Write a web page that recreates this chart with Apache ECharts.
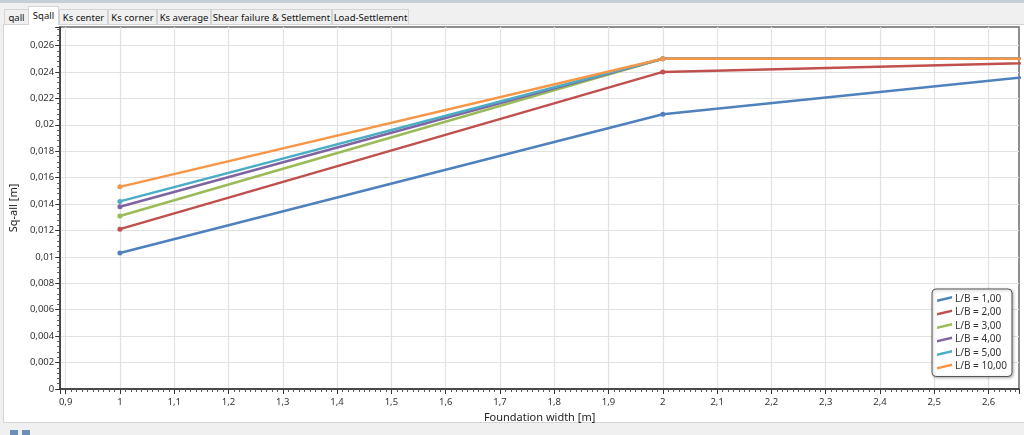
<!DOCTYPE html>
<html>
<head>
<meta charset="utf-8">
<script src="https://cdn.jsdelivr.net/npm/echarts@6/dist/echarts.min.js"></script>
<style>
  html, body { margin: 0; padding: 0; width: 1024px; height: 435px; overflow: hidden; background: #f0f0f0; font-family: "Noto Sans", sans-serif; }
  #topbar { position: absolute; left: 0; top: 0; width: 1024px; height: 3px; background: #c5cfd8; }
  #panel { position: absolute; left: 3px; top: 24px; width: 1025px; height: 397px; background: #fff; border: 1px solid #d4d4d4; }
  .tab { position: absolute; top: 9px; height: 15px; line-height: 15px; font-size: 9.5px; color: #111; text-align: center; background: #f0f0f0; border: 1px solid #d4d4d4; border-bottom: none; box-sizing: border-box; white-space: nowrap; }
  .tab.active { top: 6px; height: 19px; line-height: 18px; background: #fff; z-index: 3; }
  #chart { position: absolute; left: 0; top: 0; width: 1024px; height: 435px; z-index: 2; }
  #icon { position: absolute; left: 10px; top: 430px; width: 8px; height: 5px; background: #6d8fb5; }
  #icon2 { position: absolute; left: 22px; top: 430px; width: 8px; height: 5px; background: #6d8fb5; }
</style>
</head>
<body>
<div id="topbar"></div>
<div id="panel"></div>
<div class="tab" style="left:4px;width:25px;">qall</div>
<div class="tab active" style="left:28px;width:31px;">Sqall</div>
<div class="tab" style="left:59px;width:49px;">Ks center</div>
<div class="tab" style="left:108px;width:49px;">Ks corner</div>
<div class="tab" style="left:157px;width:54px;">Ks average</div>
<div class="tab" style="left:211px;width:121px;">Shear failure &amp; Settlement</div>
<div class="tab" style="left:332px;width:77px;">Load-Settlement</div>
<div id="icon"></div><div id="icon2"></div>
<div id="chart"></div>
<script>
// foundation width [m]
const widths = [1, 2, 3];

// Sq-all [m] per L/B ratio
const lb1 = [0.0103, 0.0208, 0.025];
const lb2 = [0.0121, 0.0240, 0.025];
const lb3 = [0.0131, 0.0250, 0.025];
const lb4 = [0.0138, 0.0250, 0.025];
const lb5 = [0.0142, 0.0250, 0.025];
const lb10 = [0.0153, 0.0250, 0.025];

const seriesNames = ["L/B = 1,00", "L/B = 2,00", "L/B = 3,00", "L/B = 4,00", "L/B = 5,00", "L/B = 10,00"];
const seriesValues = [lb1, lb2, lb3, lb4, lb5, lb10];
const colors = ["#4f81bd", "#c0504d", "#9bbb59", "#8064a2", "#4bacc6", "#f79646"];

const comma = (v, digits) => String(+v.toFixed(digits)).replace(".", ",");

var myChart = echarts.init(document.getElementById("chart"), null, { renderer: "canvas" });

let option = {
  animation: false,
  color: colors,
  textStyle: { fontFamily: "Noto Sans" },
  grid: {
    left: 55,
    right: 5,
    top: 27,
    bottom: 46,
    show: true,
    borderColor: "#6a6a6a",
    borderWidth: 1.5,
    backgroundColor: "transparent",
  },
  xAxis: {
    type: "value",
    min: 0.89,
    max: 2.656,
    splitNumber: 17,
    name: "Foundation width [m]",
    nameLocation: "middle",
    nameGap: 22,
    nameTextStyle: { fontSize: 11, color: "#222" },
    axisLine: { lineStyle: { color: "#333", width: 1.5 } },
    axisTick: { length: 5, lineStyle: { color: "#333" } },
    minorTick: { show: true, splitNumber: 10, length: 3, lineStyle: { color: "#555" } },
    axisLabel: {
      fontSize: 9.5,
      color: "#333",
      margin: 8,
      showMinLabel: false,
      showMaxLabel: false,
      formatter: (v) => comma(v, 2),
    },
    splitLine: { show: true, showMinLine: false, showMaxLine: false, lineStyle: { color: "#e2e2e2", width: 1.2 } },
  },
  yAxis: {
    type: "value",
    min: 0,
    max: 0.0274,
    interval: 0.002,
    name: "Sq-all [m]",
    nameLocation: "middle",
    nameGap: 36,
    nameTextStyle: { fontSize: 11, color: "#222" },
    axisLine: { show: true, lineStyle: { color: "#333", width: 1.5 } },
    axisTick: { show: true, length: 5, lineStyle: { color: "#333" } },
    minorTick: { show: true, splitNumber: 5, length: 3, lineStyle: { color: "#555" } },
    axisLabel: {
      fontSize: 9.5,
      color: "#333",
      margin: 6,
      showMaxLabel: false,
      formatter: (v) => comma(v, 4),
    },
    splitLine: { show: true, showMinLine: false, showMaxLine: false, lineStyle: { color: "#e2e2e2", width: 1.2 } },
  },
  legend: {
    orient: "vertical",
    right: 12,
    top: 289,
    backgroundColor: "#fff",
    borderColor: "#555",
    borderWidth: 1,
    borderRadius: 4,
    shadowColor: "rgba(0,0,0,0.3)",
    shadowBlur: 3,
    shadowOffsetX: 1,
    shadowOffsetY: 1,
    padding: [5, 5, 5, 5],
    itemGap: 3.5,
    itemWidth: 15,
    itemHeight: 6,
    icon: "path://M0,4 L15,0.5 L15,3 L0,6.5 Z",
    textStyle: { fontSize: 10, color: "#333", padding: [0, 0, 0, -2] },
    data: seriesNames,
  },
  series: seriesNames.map((name, idx) => ({
    name: name,
    type: "line",
    clip: true,
    symbol: "circle",
    symbolSize: 5,
    showSymbol: true,
    lineStyle: { width: 2.5 },
    data: widths.map((w, i) => [w, seriesValues[idx][i]]),
  })),
};

myChart.setOption(option);
</script>
</body>
</html>
